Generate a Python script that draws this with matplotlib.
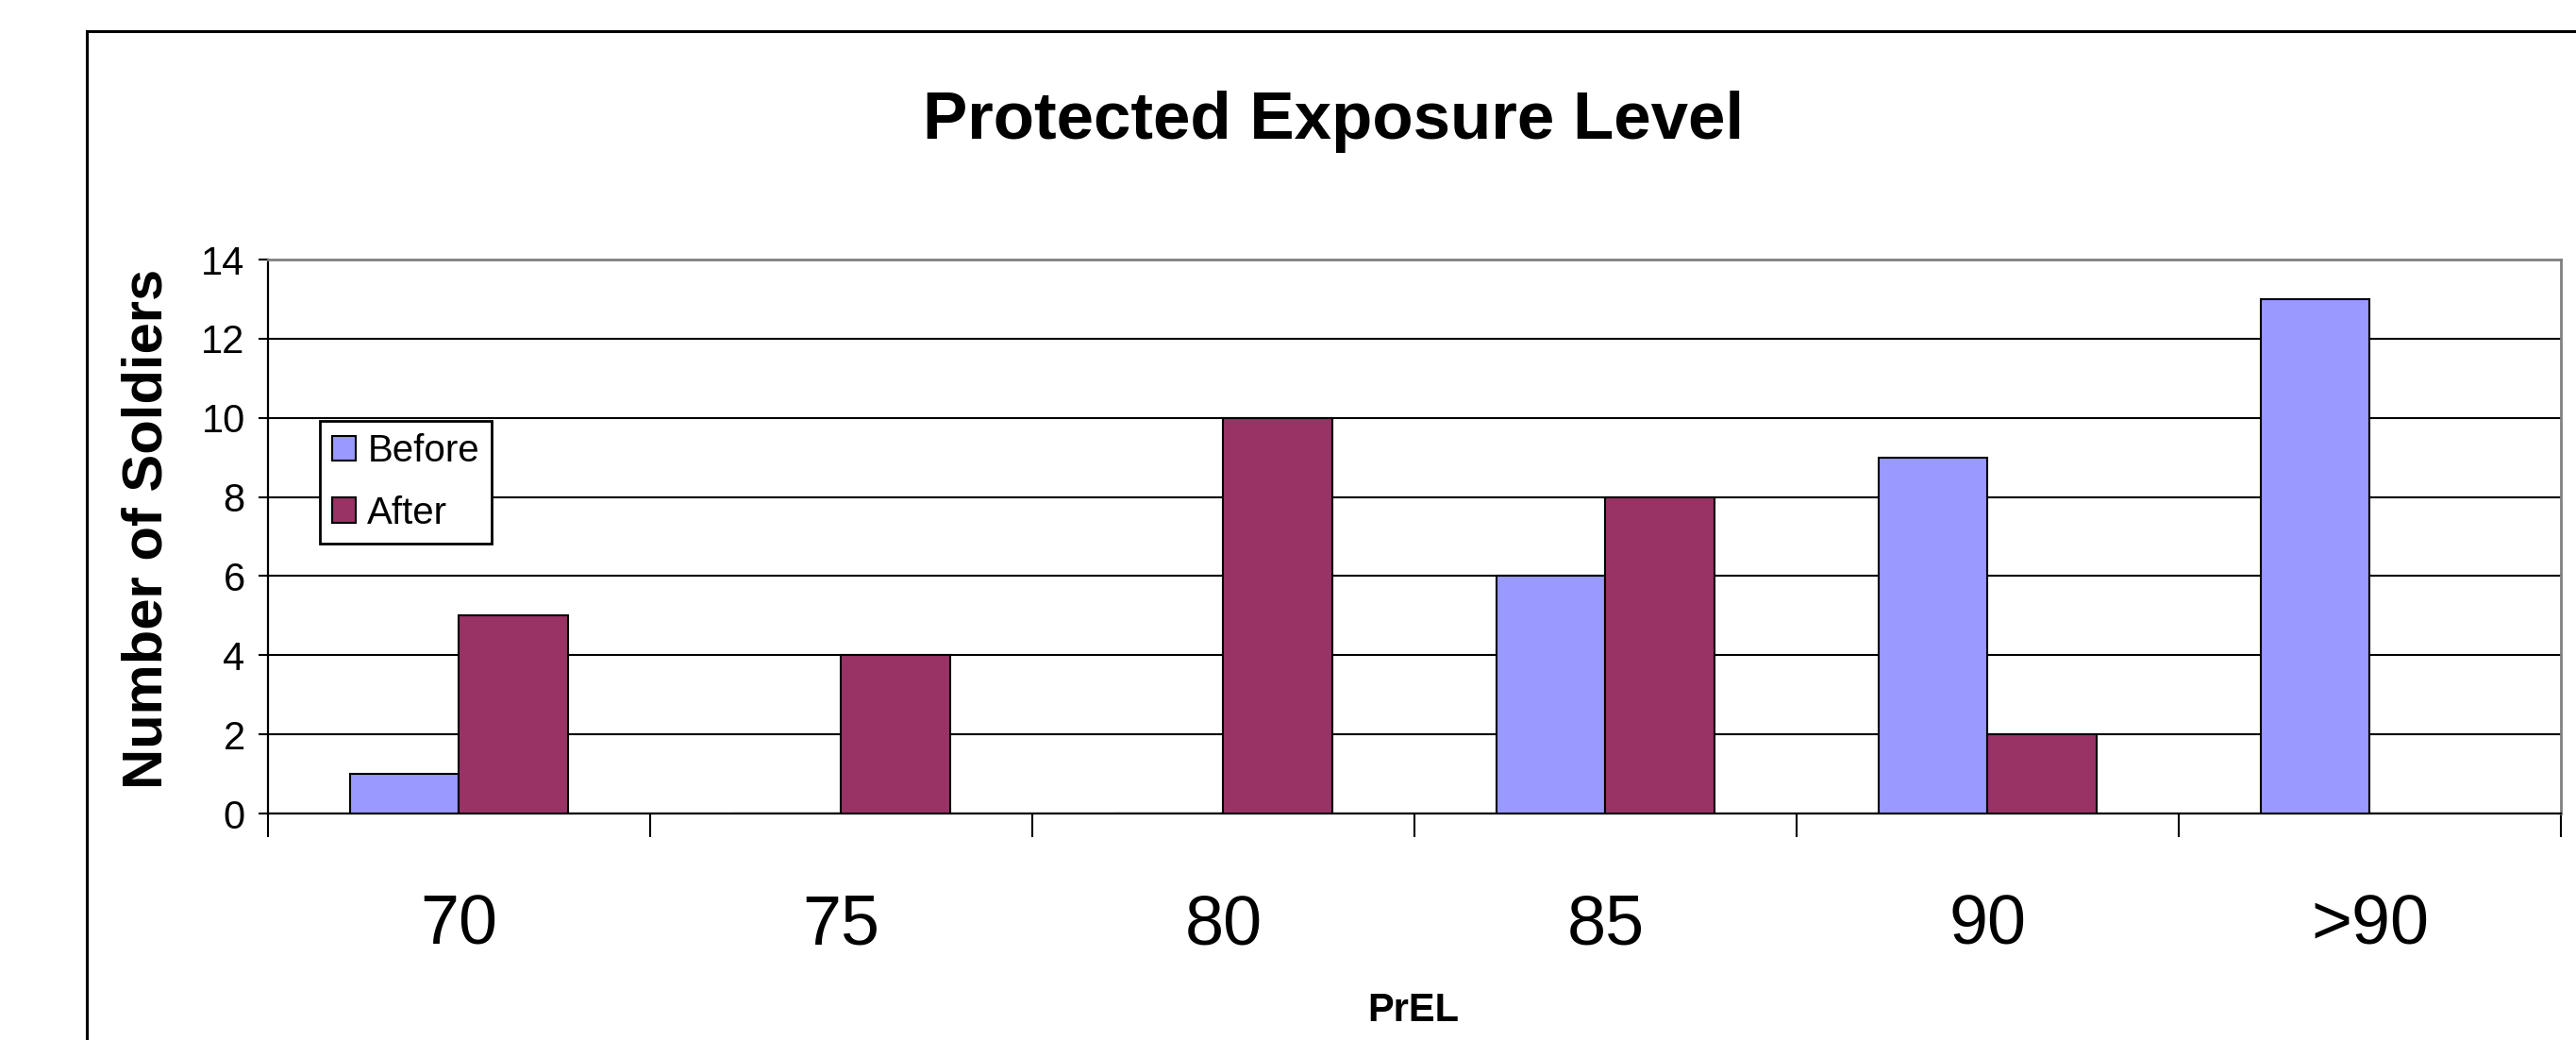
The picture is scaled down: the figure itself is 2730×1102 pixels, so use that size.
import matplotlib
matplotlib.use('Agg')
import matplotlib.pyplot as plt
from matplotlib.patches import Rectangle
import numpy as np

# ---- data ----
categories = ['70', '75', '80', '85', '90', '>90']
before = [1, 0, 0, 6, 9, 13]
after = [5, 4, 10, 8, 2, 0]
series_names = ['Before', 'After']
yticks = [0, 2, 4, 6, 8, 10, 12, 14]
title = 'Protected Exposure Level'
xlabel = 'PrEL'
ylabel = 'Number of Soldiers'

plt.rcParams['font.family'] = ['Liberation Sans', 'DejaVu Sans']

W, H = 2730, 1102
dpi = 100
fig = plt.figure(figsize=(W / dpi, H / dpi), dpi=dpi)
fig.patch.set_facecolor('white')

# outer chart border (runs off right and bottom edges)
fig.add_artist(Rectangle((92 / W, -0.05), 1.2, (1 - 33 / H) + 0.05, fill=False,
                         edgecolor='black', linewidth=2.2,
                         transform=fig.transFigure, clip_on=False))

L, R, T, B = 284, 2714, 275, 862
ax = fig.add_axes([L / W, 1 - B / H, (R - L) / W, (B - T) / H])

x = np.arange(len(categories))
w = 1 / 3.5
ax.bar(x - w / 2, before, w, color='#9999FF', edgecolor='black', linewidth=1.5,
       label=series_names[0], zorder=3)
ax.bar(x + w / 2, after, w, color='#993366', edgecolor='black', linewidth=1.5,
       label=series_names[1], zorder=3)

ax.set_xlim(-0.5, len(categories) - 0.5)
ax.set_ylim(0, 14)
ax.set_yticks(yticks)
ax.yaxis.grid(True, color='black', linewidth=1.5)
ax.set_axisbelow(True)

for s in ['left', 'bottom']:
    ax.spines[s].set_color('black')
    ax.spines[s].set_linewidth(1.6)
for s in ['top', 'right']:
    ax.spines[s].set_color('#808080')
    ax.spines[s].set_linewidth(2)

ax.set_xticks(x)
ax.set_xticklabels(categories, fontsize=53)
ax.set_xticks(np.arange(len(categories) + 1) - 0.5, minor=True)
ax.tick_params(axis='x', which='major', length=0, pad=61)
ax.tick_params(axis='x', which='minor', length=18, width=1.5, direction='out')
ax.tick_params(axis='y', which='major', length=7.5, width=1.5, direction='out',
               labelsize=30, pad=10)

fig.text(1413 / W, 1 - 147 / H, title, ha='center', va='baseline',
         fontsize=51, fontweight='bold')
fig.text(172 / W, 1 - 560 / H, ylabel, ha='center', va='baseline',
         rotation=90, rotation_mode='anchor', fontsize=43, fontweight='bold')
fig.text(1498 / W, 1 - 1082 / H, xlabel, ha='center', va='baseline',
         fontsize=30, fontweight='bold')

leg = ax.legend(loc='upper left', bbox_to_anchor=((339 - L) / (R - L), (B - 446) / (B - T)),
                borderaxespad=0, fontsize=29, frameon=True, fancybox=False,
                edgecolor='black', framealpha=1, handlelength=0.62, handleheight=0.62,
                handletextpad=0.3, borderpad=0.33, labelspacing=0.68)
leg.get_frame().set_linewidth(2)

fig.savefig('out.png', dpi=dpi, facecolor='white')
